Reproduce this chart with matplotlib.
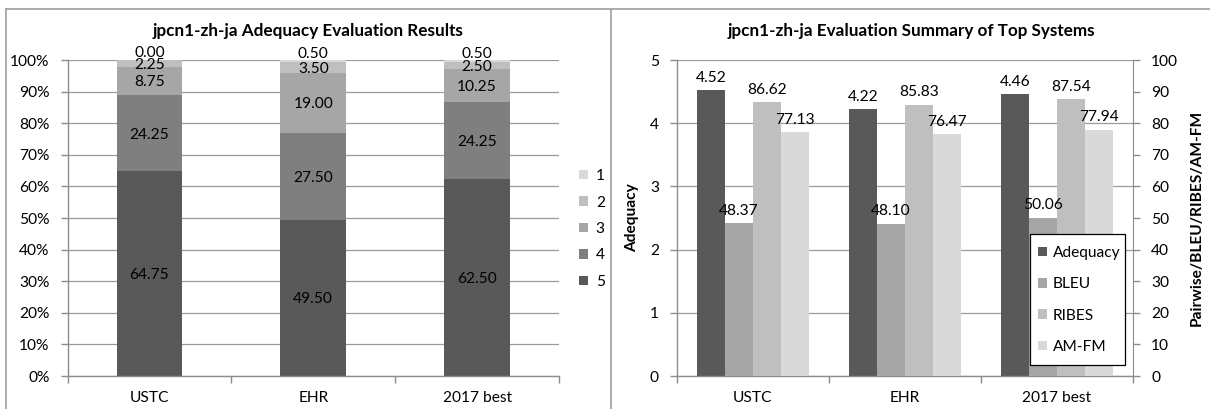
import numpy as np
import matplotlib
matplotlib.use("Agg")
import matplotlib.pyplot as plt
from matplotlib.patches import Patch, Rectangle
from matplotlib.lines import Line2D

plt.rcParams['font.family'] = ['Lato', 'DejaVu Sans']

# ---- data ----
systems = ["USTC", "EHR", "2017 best"]

# adequacy grade distribution (%), grades 5 (bottom) .. 1 (top)
grade_labels = ["5", "4", "3", "2", "1"]
grade5 = [64.75, 49.50, 62.50]
grade4 = [24.25, 27.50, 24.25]
grade3 = [8.75, 19.00, 10.25]
grade2 = [2.25, 3.50, 2.50]
grade1 = [0.00, 0.50, 0.50]

# summary scores
adequacy = [4.52, 4.22, 4.46]
bleu = [48.37, 48.10, 50.06]
ribes = [86.62, 85.83, 87.54]
amfm = [77.13, 76.47, 77.94]

# ---- styling ----
W, H = 1210, 409
grade_colors = ["#595959", "#7f7f7f", "#a6a6a6", "#bfbfbf", "#d9d9d9"]
metric_colors = ["#595959", "#a6a6a6", "#bfbfbf", "#d9d9d9"]
grid_c = "#9a9a9a"
spine_c = "#8c8c8c"
fs = 11.2
title_fs = 12.3

fig = plt.figure(figsize=(W / 100, H / 100), dpi=100)


def fx(px):
    return px / W


def fy(py):
    return 1 - py / H


def style_axes(ax):
    ax.set_xlim(-0.5, 2.5)
    ax.set_xticks(np.arange(3))
    ax.set_xticklabels(systems, fontsize=fs)
    ax.set_xticks([-0.5, 0.5, 1.5, 2.5], minor=True)
    ax.tick_params(axis="x", which="major", length=0, pad=11)
    ax.tick_params(axis="x", which="minor", length=5, color=spine_c, width=1)
    ax.tick_params(axis="y", length=5, color=spine_c, width=1, pad=8, labelsize=fs)
    for s in ["top", "right"]:
        ax.spines[s].set_visible(False)
    for s in ["left", "bottom"]:
        ax.spines[s].set_color(spine_c)
        ax.spines[s].set_linewidth(1)
    ax.yaxis.grid(True, color=grid_c, lw=0.9)
    ax.set_axisbelow(True)


# ---- left: stacked adequacy distribution ----
axL = fig.add_axes([fx(67.5), fy(376), fx(559) - fx(67.5), 316 / H])
style_axes(axL)
x = np.arange(len(systems))
bw = 0.4
series = [grade5, grade4, grade3, grade2, grade1]
bottom = np.zeros(len(systems))
handles = []
for vals, col, lab in zip(series, grade_colors, grade_labels):
    vals = np.array(vals)
    axL.bar(x, vals, bw, bottom=bottom, color=col, label=lab, zorder=2)
    for xi, b, v in zip(x, bottom, vals):
        if lab == "1":
            axL.annotate(f"{v:.2f}", (xi, b + v / 2), xytext=(0, 6),
                         textcoords="offset points", ha="center",
                         va="center_baseline", fontsize=fs, zorder=5,
                         annotation_clip=False)
        else:
            axL.text(xi, b + v / 2, f"{v:.2f}", ha="center",
                     va="center_baseline", fontsize=fs, zorder=5)
    bottom = bottom + vals
    handles.append(Patch(facecolor=col, label=lab))

axL.set_ylim(0, 100)
axL.set_yticks(np.arange(0, 101, 10))
axL.set_yticklabels([f"{v}%" for v in range(0, 101, 10)])
axL.legend(handles[::-1], grade_labels[::-1], loc="center left",
           bbox_to_anchor=(fx(579), fy(229)), bbox_transform=fig.transFigure,
           frameon=False, fontsize=fs, handlelength=0.58, handleheight=0.58,
           handletextpad=0.5, labelspacing=0.8, borderpad=0, borderaxespad=0)
fig.text(fx(308), fy(31), "jpcn1-zh-ja Adequacy Evaluation Results",
         ha="center", va="center", fontsize=title_fs, fontweight="bold")

# ---- right: summary scores ----
axR = fig.add_axes([fx(677), fy(376), fx(1133) - fx(677), 316 / H])
style_axes(axR)
axR2 = axR.twinx()
axR2.set_xlim(-0.5, 2.5)
for s in ["top", "left", "bottom"]:
    axR2.spines[s].set_visible(False)
axR2.spines["right"].set_color(spine_c)
axR2.tick_params(axis="y", length=5, color=spine_c, width=1, pad=8, labelsize=fs)

w = 0.183
b_ad = axR.bar(x - 1.5 * w, adequacy, w, color=metric_colors[0], zorder=2)
b_bl = axR2.bar(x - 0.5 * w, bleu, w, color=metric_colors[1], zorder=2)
b_ri = axR2.bar(x + 0.5 * w, ribes, w, color=metric_colors[2], zorder=2)
b_am = axR2.bar(x + 1.5 * w, amfm, w, color=metric_colors[3], zorder=2)
axR.bar_label(b_ad, fmt="%.2f", padding=4, fontsize=fs)
for bb in (b_bl, b_ri, b_am):
    axR2.bar_label(bb, fmt="%.2f", padding=4, fontsize=fs)

axR.set_ylim(0, 5)
axR.set_yticks(np.arange(0, 6))
axR2.set_ylim(0, 100)
axR2.set_yticks(np.arange(0, 101, 10))
axR.set_ylabel("Adequacy", fontsize=fs, fontweight="bold")
axR.yaxis.set_label_coords((639 - 677) / 456, 0.5)
axR2.set_ylabel("Pairwise/BLEU/RIBES/AM-FM", fontsize=fs, fontweight="bold")
axR2.yaxis.set_label_coords((1190 - 677) / 456, 0.5)

metric_names = ["Adequacy", "BLEU", "RIBES", "AM-FM"]
mh = [Patch(facecolor=c, label=n) for c, n in zip(metric_colors, metric_names)]
box = Rectangle((fx(1030), fy(365)), fx(1125) - fx(1030), (365 - 234) / H,
                transform=fig.transFigure, facecolor="white", edgecolor="black",
                lw=0.9, zorder=4.5, clip_on=False)
axR2.add_artist(box)
leg = axR2.legend(mh, metric_names, loc="center left",
                  bbox_to_anchor=(fx(1038), fy(300)), bbox_transform=fig.transFigure,
                  frameon=False, fontsize=fs, handlelength=0.58, handleheight=0.58,
                  handletextpad=0.35, labelspacing=1.12, borderpad=0, borderaxespad=0)
leg.set_zorder(5)
fig.text(fx(911), fy(31), "jpcn1-zh-ja Evaluation Summary of Top Systems",
         ha="center", va="center", fontsize=title_fs, fontweight="bold")

# ---- panel frames ----
frame_c = "#a6a6a6"
fig.add_artist(Line2D([fx(6), 1], [fy(9), fy(9)], color=frame_c, lw=1.3,
                      transform=fig.transFigure))
fig.add_artist(Line2D([fx(6), fx(6)], [0, fy(9)], color=frame_c, lw=1.3,
                      transform=fig.transFigure))
fig.add_artist(Line2D([fx(611), fx(611)], [0, fy(9)], color=frame_c, lw=1.3,
                      transform=fig.transFigure))

fig.savefig("out.png", dpi=100)
